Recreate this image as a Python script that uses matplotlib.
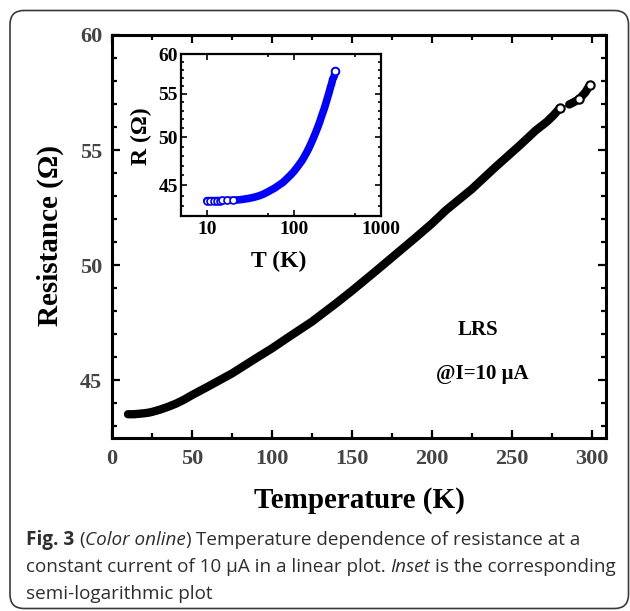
import numpy as np
import matplotlib
matplotlib.use("Agg")
import matplotlib.pyplot as plt
from matplotlib.patches import FancyBboxPatch
from matplotlib.transforms import IdentityTransform
from matplotlib.ticker import FixedLocator, MultipleLocator, LogLocator, NullFormatter, FixedFormatter

# valores (T em K, R em Ohm)
temperatura = np.array([10, 11, 12, 13, 14, 15, 17, 20, 23, 25, 30, 35, 40, 45, 50,
                        60, 75, 90, 100, 110, 125, 140, 150, 165, 178, 190, 200, 209,
                        225, 240, 255, 265, 272, 276, 280, 286, 288, 292, 296, 299])
resistencia = np.array([43.52, 43.52, 43.52, 43.52, 43.52, 43.53, 43.54, 43.56, 43.59,
                        43.62, 43.72, 43.84, 43.98, 44.15, 44.35, 44.72, 45.29, 45.95,
                        46.38, 46.85, 47.54, 48.33, 48.88, 49.74, 50.50, 51.20, 51.80,
                        52.39, 53.30, 54.27, 55.20, 55.85, 56.23, 56.50, 56.81, 56.98,
                        57.05, 57.20, 57.50, 57.83])
ticks_x = [0, 50, 100, 150, 200, 250, 300]
ticks_y = [45, 50, 55, 60]
ticks_x_inset = [10, 100, 1000]

W, H = 630, 611
serif = "Liberation Serif"

fig = plt.figure(figsize=(W / 100, H / 100), dpi=100)

# moldura arredondada
moldura = FancyBboxPatch((10, 2.5), 618.5, 598, boxstyle="round,pad=0,rounding_size=14",
                         transform=IdentityTransform(), fill=False, ec="#3a3a3a", lw=1.2)
fig.patches.append(moldura)

# grafico principal
ax = fig.add_axes([112 / W, 1 - 437.7 / H, 494 / W, 402.7 / H])
seg1 = temperatura < 283
seg2 = ~seg1
ax.plot(temperatura, resistencia, color="black", lw=0.8)
ax.plot(temperatura[seg1], resistencia[seg1], color="black", lw=6, solid_capstyle="round")
ax.plot(temperatura[seg2], resistencia[seg2], color="black", lw=6, solid_capstyle="round")
ends = [np.where(seg1)[0][-1], len(temperatura) - 3, len(temperatura) - 1]
ax.plot(temperatura[ends], resistencia[ends], "o", ms=6, mfc="white", mec="black", mew=1.5)

ax.set_xlim(0, 309)
ax.set_ylim(42.5, 60)
ax.xaxis.set_major_locator(FixedLocator(ticks_x))
ax.xaxis.set_minor_locator(MultipleLocator(25))
ax.yaxis.set_major_locator(FixedLocator(ticks_y))
ax.yaxis.set_minor_locator(MultipleLocator(1))
ax.tick_params(which="both", direction="in", top=True, right=True, width=1.6)
ax.tick_params(which="major", length=6)
ax.tick_params(which="minor", length=3.5)
ax.tick_params(axis="y", pad=7)
ax.tick_params(axis="x", pad=8)
for s in ax.spines.values():
    s.set_linewidth(2.2)
for lab in ax.get_xticklabels() + ax.get_yticklabels():
    lab.set_fontfamily(serif)
    lab.set_fontweight("bold")
    lab.set_fontsize(16)
    lab.set_color("#444444")

fig.text(50 / W, 1 - 236 / H, "Resistance (Ω)", rotation=90, ha="center", va="center",
         fontsize=21, fontweight="bold", family=serif)
fig.text(359 / W, 1 - 508 / H, "Temperature (K)", ha="center", va="baseline",
         fontsize=21, fontweight="bold", family=serif)
fig.text(478 / W, 1 - 330 / H, "LRS", ha="center", va="center",
         fontsize=15, fontweight="bold", family=serif)
fig.text(482 / W, 1 - 373.5 / H, "@I=10 μA", ha="center", va="center",
         fontsize=15, fontweight="bold", family=serif)

# inset semi-log
axi = fig.add_axes([180.7 / W, 1 - 215.7 / H, 200 / W, 161.4 / H])
axi.set_xscale("log")
axi.set_yscale("log")
axi.plot(temperatura, resistencia, color="#0000ff", lw=5.5, solid_capstyle="round")
baixas = temperatura <= 20
axi.plot(temperatura[baixas], resistencia[baixas], "o", ms=5, mfc="white", mec="#0000ff", mew=1.2)
axi.plot(temperatura[-1:], resistencia[-1:], "o", ms=5.5, mfc="white", mec="#0000ff", mew=1.4)
axi.set_xlim(5, 1000)
axi.set_ylim(42.1, 60)
axi.xaxis.set_major_locator(FixedLocator(ticks_x_inset))
axi.xaxis.set_major_formatter(FixedFormatter([str(v) for v in ticks_x_inset]))
axi.xaxis.set_minor_locator(LogLocator(base=10, subs=(5,)))
axi.xaxis.set_minor_formatter(NullFormatter())
axi.yaxis.set_major_locator(FixedLocator(ticks_y))
axi.yaxis.set_major_formatter(FixedFormatter([str(v) for v in ticks_y]))
axi.yaxis.set_minor_locator(FixedLocator(np.arange(43, 60)))
axi.yaxis.set_minor_formatter(NullFormatter())
axi.tick_params(which="both", direction="in", top=True, right=True, width=1.2)
axi.tick_params(which="major", length=4.5)
axi.tick_params(which="minor", length=2.5)
axi.tick_params(axis="y", pad=2)
axi.tick_params(axis="x", pad=4)
for s in axi.spines.values():
    s.set_linewidth(1.6)
for lab in axi.get_xticklabels() + axi.get_yticklabels():
    lab.set_fontfamily(serif)
    lab.set_fontweight("bold")
    lab.set_fontsize(14)

fig.text(141.7 / W, 1 - 136 / H, "R (Ω)", rotation=90, ha="center", va="center",
         fontsize=17, fontweight="bold", family=serif)
fig.text(279 / W, 1 - 266.7 / H, "T (K)", ha="center", va="baseline",
         fontsize=17, fontweight="bold", family=serif)

# legenda da figura (texto com partes em negrito/italico)
fig.canvas.draw()
rend = fig.canvas.get_renderer()
cap_font = "Open Sans"
cap_size = 13.6
cap_color = "#2e2e2e"


def largura(txt, style="normal", weight="normal"):
    t = fig.text(0, 0, txt, fontsize=cap_size, family=cap_font, style=style, weight=weight)
    w = t.get_window_extent(rend).width
    t.remove()
    return w


espaco = largura("a a") - largura("aa")


def linha(partes, x_px, y_px):
    x = x_px
    for txt, style, weight, sp in partes:
        if sp:
            x += espaco
        t = fig.text(x / W, 1 - y_px / H, txt, fontsize=cap_size, family=cap_font,
                     style=style, weight=weight, color=cap_color, va="baseline")
        x += t.get_window_extent(rend).width


linha([("Fig. 3", "normal", "bold", False),
       ("(", "normal", "normal", True),
       ("Color online", "italic", "normal", False),
       (")", "normal", "normal", False),
       ("Temperature dependence of resistance at a", "normal", "normal", True)], 26, 545.3)
linha([("constant current of 10 μA in a linear plot.", "normal", "normal", False),
       ("Inset", "italic", "normal", True),
       ("is the corresponding", "normal", "normal", True)], 26, 572)
linha([("semi-logarithmic plot", "normal", "normal", False)], 26, 598.7)

fig.savefig("out.png", dpi=100)
